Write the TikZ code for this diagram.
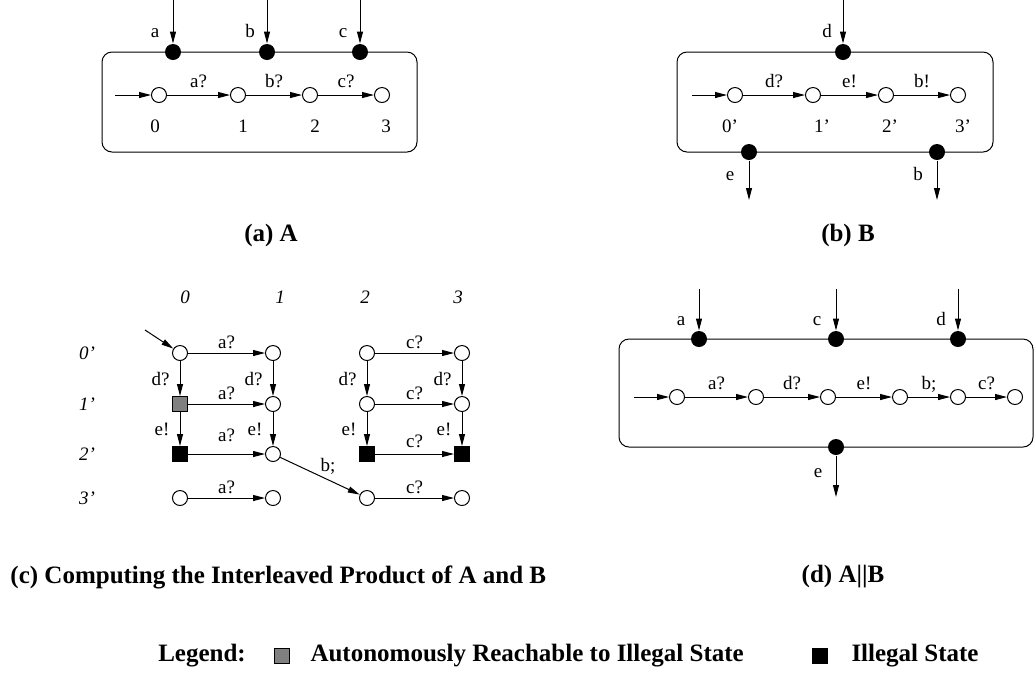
\documentclass[tikz,border=0pt]{standalone}
\usepackage{fontspec}
\setmainfont{Liberation Serif}
\usetikzlibrary{positioning,arrows.meta}

\tikzset{
  st/.style={circle,draw,fill=white,minimum size=7.5pt,inner sep=0pt},
  port/.style={circle,fill=black,minimum size=8pt,inner sep=0pt},
  bad/.style={rectangle,draw,fill=black,minimum size=7.5pt,inner sep=0pt},
  semibad/.style={rectangle,draw,fill=gray,minimum size=7.5pt,inner sep=0pt},
  lbl/.style={font=\fontsize{9.5}{11}\selectfont,inner sep=2pt,text height=6.5pt,text depth=0pt},
  itl/.style={font=\fontsize{9.5}{11}\selectfont\itshape,inner sep=2pt},
  capt/.style={font=\fontsize{12.5}{15}\selectfont\bfseries,inner sep=0pt},
  iface/.style={draw,rounded corners=5pt},
}

\begin{document}
\begin{tikzpicture}[x=0.5pt,y=-0.5pt,line width=0.5pt,>={Triangle[length=6pt,width=3pt]}]
  \useasboundingbox (0,0) rectangle (1034,677);

  % (a) A
  \draw[iface] (102,52) rectangle (417,152);
  \node[port] (pa) at (173,52) {};
  \node[port] (pb) at (267,52) {};
  \node[port] (pc) at (360,52) {};
  \coordinate (ta) at (173,0);
  \coordinate (tb) at (267,0);
  \coordinate (tc) at (360,0);
  \draw[->] (ta) -- (pa);
  \draw[->] (tb) -- (pb);
  \draw[->] (tc) -- (pc);
  \node[lbl] (la) at (155,31) {a};
  \node[lbl] (lb) at (250,31) {b};
  \node[lbl] (lc) at (343,31) {c};

  \coordinate (ia) at (115,95);
  \node[st] (a0) at (159,95) {};
  \node[st] (a1) at (238,95) {};
  \node[st] (a2) at (310,95) {};
  \node[st] (a3) at (382,95) {};
  \path[->] (ia) edge (a0);
  \path[->] (a0) edge node[lbl,above=1.5pt] {a?} (a1);
  \path[->] (a1) edge node[lbl,above=1.5pt] {b?} (a2);
  \path[->] (a2) edge node[lbl,above=1.5pt] {c?} (a3);
  \node[lbl] (na0) at (155,126) {0};
  \node[lbl] (na1) at (243,126) {1};
  \node[lbl] (na2) at (315,126) {2};
  \node[lbl] (na3) at (386,126) {3};

  \node[capt] (capa) at (271,235) {(a) A};

  % (b) B
  \draw[iface] (677,52) rectangle (993,152);
  \node[port] (pd) at (843,52) {};
  \node[port] (pe) at (749,152) {};
  \node[port] (pb2) at (937,152) {};
  \coordinate (td) at (843,0);
  \coordinate (te) at (749,200);
  \coordinate (tb2) at (937,200);
  \draw[->] (td) -- (pd);
  \draw[->] (pe) -- (te);
  \draw[->] (pb2) -- (tb2);
  \node[lbl] (ld) at (827,31) {d};
  \node[lbl] (le) at (730,174) {e};
  \node[lbl] (lb2) at (918,174) {b};

  \coordinate (ib) at (692,95);
  \node[st] (b0) at (735,95) {};
  \node[st] (b1) at (813,95) {};
  \node[st] (b2) at (886,95) {};
  \node[st] (b3) at (958,95) {};
  \path[->] (ib) edge (b0);
  \path[->] (b0) edge node[lbl,above=1.5pt] {d?} (b1);
  \path[->] (b1) edge node[lbl,above=1.5pt] {e!} (b2);
  \path[->] (b2) edge node[lbl,above=1.5pt] {b!} (b3);
  \node[lbl] (nb0) at (730,126) {0'};
  \node[lbl] (nb1) at (822,126) {1'};
  \node[lbl] (nb2) at (890,126) {2'};
  \node[lbl] (nb3) at (963,126) {3'};

  \node[capt] (capb) at (848,235) {(b) B};

  % (c) interleaved product
  \node[itl] (h0) at (185,297) {0};
  \node[itl] (h1) at (280,297) {1};
  \node[itl] (h2) at (365,297) {2};
  \node[itl] (h3) at (458,297) {3};
  \node[itl] (r0) at (87,353) {0'};
  \node[itl] (r1) at (87,404) {1'};
  \node[itl] (r2) at (87,454) {2'};
  \node[itl] (r3) at (87,498) {3'};

  \node[st] (q00) at (180,353) {};
  \node[st] (q10) at (273,353) {};
  \node[st] (q20) at (367,353) {};
  \node[st] (q30) at (462,353) {};
  \node[semibad] (q01) at (180,404) {};
  \node[st] (q11) at (273,404) {};
  \node[st] (q21) at (367,404) {};
  \node[st] (q31) at (462,404) {};
  \node[bad] (q02) at (180,454) {};
  \node[st] (q12) at (273,454) {};
  \node[bad] (q22) at (367,454) {};
  \node[bad] (q32) at (462,454) {};
  \node[st] (q03) at (180,498) {};
  \node[st] (q13) at (273,498) {};
  \node[st] (q23) at (367,498) {};
  \node[st] (q33) at (462,498) {};

  \coordinate (iq) at (145,330);
  \path[->] (iq) edge (q00);
  \path[->] (q00) edge node[lbl,above] {a?} (q10);
  \path[->] (q01) edge node[lbl,above] {a?} (q11);
  \path[->] (q02) edge node[lbl,above=4pt] {a?} (q12);
  \path[->] (q03) edge node[lbl,above] {a?} (q13);
  \path[->] (q20) edge node[lbl,above] {c?} (q30);
  \path[->] (q21) edge node[lbl,above] {c?} (q31);
  \path[->] (q22) edge node[lbl,above=1pt] {c?} (q32);
  \path[->] (q23) edge node[lbl,above] {c?} (q33);
  \path[->] (q00) edge node[lbl,left=3pt] {d?} (q01);
  \path[->] (q10) edge node[lbl,left=3pt] {d?} (q11);
  \path[->] (q20) edge node[lbl,left=3pt] {d?} (q21);
  \path[->] (q30) edge node[lbl,left=3pt] {d?} (q31);
  \path[->] (q01) edge node[lbl,left=3pt] {e!} (q02);
  \path[->] (q11) edge node[lbl,left=3pt] {e!} (q12);
  \path[->] (q21) edge node[lbl,left=3pt] {e!} (q22);
  \path[->] (q31) edge node[lbl,left=3pt] {e!} (q32);
  \path[->] (q12) edge node[lbl,above right=0pt and -2pt] {b;} (q23);

  \node[capt,anchor=west] (capc) at (10,577) {(c) Computing the Interleaved Product of A and B};

  % (d) A||B
  \draw[iface] (619,339) rectangle (1033,447);
  \node[port] (da) at (699,339) {};
  \node[port] (dc) at (836,339) {};
  \node[port] (dd) at (958,339) {};
  \node[port] (de) at (836,447) {};
  \coordinate (tda) at (699,289);
  \coordinate (tdc) at (836,289);
  \coordinate (tdd) at (958,289);
  \coordinate (tde) at (836,497);
  \draw[->] (tda) -- (da);
  \draw[->] (tdc) -- (dc);
  \draw[->] (tdd) -- (dd);
  \draw[->] (de) -- (tde);
  \node[lbl] (lda) at (681,319) {a};
  \node[lbl] (ldc) at (817,319) {c};
  \node[lbl] (ldd) at (941,319) {d};
  \node[lbl] (lde) at (818,471) {e};

  \coordinate (id) at (634,397);
  \node[st] (d0) at (677,397) {};
  \node[st] (d1) at (756,397) {};
  \node[st] (d2) at (828,397) {};
  \node[st] (d3) at (900,397) {};
  \node[st] (d4) at (958,397) {};
  \node[st] (d5) at (1015,397) {};
  \path[->] (id) edge (d0);
  \path[->] (d0) edge node[lbl,above=1.5pt] {a?} (d1);
  \path[->] (d1) edge node[lbl,above=1.5pt] {d?} (d2);
  \path[->] (d2) edge node[lbl,above=1.5pt] {e!} (d3);
  \path[->] (d3) edge node[lbl,above=1.5pt] {b;} (d4);
  \path[->] (d4) edge node[lbl,above=1.5pt] {c?} (d5);

  \node[capt] (capd) at (843,577) {(d) A||B};

  % legend
  \node[capt] (leg) at (202,656) {Legend:};
  \node[semibad] (kg) at (282,656) {};
  \node[capt,anchor=west] (kgt) at (310,656) {Autonomously Reachable to Illegal State};
  \node[bad] (kb) at (820,656) {};
  \node[capt,anchor=west] (kbt) at (851,656) {Illegal State};

\end{tikzpicture}
\end{document}
